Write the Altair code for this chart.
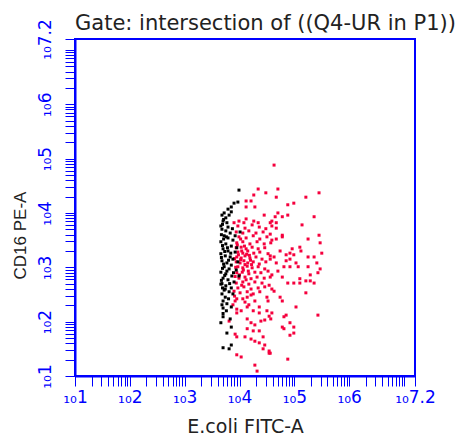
import altair as alt
import pandas as pd

# ---- data (log10 of the fluorescence values) ----
red_x = [4.63, 4.70, 4.67, 5.45, 5.21, 4.99, 4.88, 4.70, 4.88, 5.36, 4.78, 4.65, 4.59, 5.14, 4.67,
         4.67, 5.45, 4.78, 4.78, 5.25, 4.59, 4.67, 5.47, 4.74, 5.10, 5.12, 4.96, 4.92, 4.85, 4.99,
         5.50, 5.36, 5.25, 4.63, 4.56, 4.85, 4.92, 5.03, 5.41, 4.67, 4.81, 4.92, 5.07, 5.25, 5.47,
         4.70, 5.43, 4.59, 4.56, 4.78, 5.29, 5.10, 5.21, 5.29, 4.88, 4.99, 5.10, 5.36, 4.59, 4.63,
         5.21, 4.74, 4.78, 5.03, 5.43, 4.59, 4.85, 4.81, 4.92, 4.99, 4.78, 4.81, 4.99, 4.92, 4.56,
         4.88,
         4.34, 4.48, 4.26, 4.12, 4.21, 4.12, 4.28, 4.45, 4.56, 3.99, 4.12, 4.08, 4.26, 3.90, 4.34,
         3.95, 3.92, 4.06, 4.14, 4.21, 4.10, 4.28, 4.50, 4.52, 3.88, 3.95, 3.95, 4.03, 4.14, 4.17,
         4.36, 4.25, 4.36, 4.50, 4.54, 4.57, 4.14, 4.21, 4.28, 4.14, 4.39, 4.46, 4.25, 4.36, 4.43,
         3.81, 3.92, 3.95, 4.10, 4.21, 4.28, 4.36, 4.46, 4.43, 4.54, 4.54, 3.95, 4.03, 4.28, 4.32,
         3.97, 4.10, 4.23, 4.36, 4.48, 4.59,
         3.94, 4.06, 4.17, 4.30, 4.43, 4.56,
         3.99, 4.12, 4.25, 4.37, 4.50,
         3.95, 4.06, 4.19, 4.32, 4.45, 4.57,
         3.94, 4.03, 4.12, 4.23, 4.34, 4.46,
         3.97, 4.06, 4.15, 4.26, 4.37, 4.52,
         3.95, 4.03, 4.10, 4.19, 4.30, 4.41, 4.56,
         3.94, 4.01, 4.08, 4.15, 4.25, 4.36, 4.48,
         3.97, 4.06, 4.14, 4.23, 4.34, 4.46,
         3.95, 4.05, 4.17, 4.28, 4.39, 4.52,
         3.99, 4.10, 4.21, 4.32, 4.45,
         3.94, 4.06, 4.17, 4.28, 4.41, 4.54,
         3.97, 4.08, 4.21, 4.34, 4.46,
         4.01, 4.14, 4.25, 4.37, 3.90,
         4.04, 4.13, 4.20, 4.10, 4.02, 4.18, 4.07, 4.16, 3.98, 4.22, 4.00, 4.12, 4.04, 3.96, 4.09,
         4.02, 3.93, 3.91, 3.92, 3.91]
red_y = [4.88, 4.44, 4.29, 4.37, 4.29, 4.18, 4.15, 4.00, 3.96, 3.93, 3.93, 3.93, 3.85, 3.78, 3.82,
         3.72, 3.59, 3.59, 3.56, 3.52, 3.50, 3.52, 3.45, 3.30, 3.37, 3.30, 3.34, 3.26, 3.23, 3.23,
         3.26, 3.19, 3.19, 3.19, 3.15, 3.12, 3.15, 3.08, 3.08, 3.08, 3.01, 3.01, 3.01, 3.01, 2.97,
         2.93, 2.90, 2.86, 2.82, 2.82, 2.86, 2.79, 2.75, 2.75, 2.71, 2.71, 2.71, 2.71, 2.60, 2.56,
         2.53, 2.45, 2.38, 2.27, 2.12, 2.16, 2.12, 2.09, 1.98, 1.90, 1.90, 1.87, 1.79, 1.75, 1.42,
         1.31,
         4.44, 4.37, 4.33, 4.22, 4.22, 4.11, 4.11, 3.96, 3.82, 3.85, 3.89, 3.82, 3.85, 3.82, 3.82,
         2.42, 2.38, 2.42, 2.45, 2.49, 2.36, 2.38, 2.45, 2.38, 2.31, 2.23, 2.16, 2.20, 2.27, 2.31,
         2.27, 2.20, 2.16, 2.20, 2.10, 2.05, 2.05, 1.98, 1.94, 1.87, 2.01, 2.03, 1.83, 1.83, 1.72,
         2.01, 1.77, 1.72, 1.72, 1.68, 1.64, 1.61, 1.57, 1.50, 1.46, 1.42, 1.39, 1.35, 1.20, 1.09,
         3.76, 3.72, 3.78, 3.74, 3.71, 3.76,
         3.65, 3.63, 3.67, 3.63, 3.65, 3.61,
         3.56, 3.54, 3.58, 3.52, 3.56,
         3.45, 3.47, 3.43, 3.47, 3.43, 3.45,
         3.36, 3.37, 3.34, 3.37, 3.34, 3.36,
         3.28, 3.26, 3.30, 3.26, 3.28, 3.25,
         3.19, 3.17, 3.21, 3.17, 3.19, 3.15, 3.21,
         3.10, 3.08, 3.12, 3.08, 3.10, 3.06, 3.10,
         3.01, 2.99, 3.02, 2.99, 3.01, 2.97,
         2.90, 2.91, 2.88, 2.91, 2.90, 2.93,
         2.80, 2.82, 2.79, 2.82, 2.80,
         2.71, 2.73, 2.69, 2.73, 2.71, 2.67,
         2.62, 2.64, 2.60, 2.62, 2.64,
         2.53, 2.55, 2.51, 2.55, 2.56,
         3.30, 3.24, 3.13, 3.05, 3.14, 3.22, 2.95, 2.93, 3.23, 3.05, 2.86, 2.77, 2.67, 3.41, 3.39,
         3.52, 3.00, 3.16, 2.83, 2.47]

black_x = [3.68, 3.75, 3.83, 3.72, 3.79, 3.88, 3.66, 3.75, 3.85, 3.70, 3.79, 3.92, 3.66, 3.74, 3.83,
           3.88, 3.68, 3.77, 3.85, 3.72, 3.81, 3.94, 3.66, 3.75, 3.86, 3.70, 3.79, 3.90, 3.66, 3.75,
           3.85, 3.72, 3.81, 3.68, 3.88, 3.97, 3.95, 3.99, 3.92, 4.01,
           3.68, 3.75, 3.81, 3.85, 3.66,
           3.99, 3.97, 3.90, 3.85, 3.79, 3.72, 3.70, 3.77, 3.79,
           3.74, 3.70, 3.77, 3.70, 3.85, 3.70, 3.85, 3.77, 3.70, 3.85, 3.81,
           3.67, 3.69, 3.67, 3.69, 3.67, 3.69, 3.71, 3.73, 3.71, 3.73, 3.68, 3.76, 3.78, 3.80, 3.77,
           3.82, 3.74, 3.70, 3.68, 3.76, 3.66, 3.71, 3.69, 3.87, 3.84, 3.89, 3.80, 3.83]
black_y = [3.70, 3.67, 3.63, 3.58, 3.54, 3.50, 3.47, 3.43, 3.39, 3.34, 3.30, 3.28, 3.25, 3.21, 3.19,
           3.15, 3.12, 3.08, 3.04, 3.01, 2.97, 2.95, 2.91, 2.88, 2.84, 2.80, 2.77, 2.73, 2.69, 2.66,
           2.62, 2.58, 2.55, 2.51, 2.51, 3.10, 3.36, 2.84, 3.58, 3.65,
           3.96, 3.91, 3.96, 4.02, 3.76,
           4.42, 4.20, 4.18, 4.11, 4.07, 4.00, 3.85, 3.82, 3.74,
           2.45, 2.38, 2.33, 2.25, 2.27, 2.09, 1.90, 1.79, 1.52, 1.57, 1.50,
           3.60, 3.40, 3.18, 2.98, 2.76, 2.62, 3.52, 3.29, 3.06, 2.85, 2.70, 3.56, 3.36, 3.13, 2.93,
           2.70, 2.60, 2.15, 2.31, 2.20, 1.98, 3.88, 3.79, 3.71, 3.26, 2.90, 2.42, 2.05]

axis_exps = [1, 2, 3, 4, 5, 6, 7, 7.2]
labelled_exps = [1, 2, 3, 4, 5, 6, 7.2]
minor_mults = [2, 3, 4, 5, 6, 7, 8, 9]
tick_values = [10 ** e for e in axis_exps] + [m * 10 ** d for d in range(1, 7) for m in minor_mults]

df = pd.DataFrame({
    "fitc": [10 ** v for v in red_x] + [10 ** v for v in black_x],
    "pe": [10 ** v for v in red_y] + [10 ** v for v in black_y],
    "pop": ["Q4-UR"] * len(red_x) + ["other"] * len(black_x),
})

BLUE = "#0000ff"
lbl_list = ",".join(str(e) for e in labelled_exps)
label_expr = ("indexof([" + lbl_list + "], round(log(datum.value)/LN10*10)/10) >= 0 && "
              "abs(log(datum.value)/LN10*10 - round(log(datum.value)/LN10*10)) < 0.01"
              " ? '\u2081\u2080' + format(log(datum.value)/LN10, '.2~f') : ''")

common = dict(
    values=tick_values, labelExpr=label_expr, grid=False,
    domainColor=BLUE, domainWidth=2, tickColor=BLUE, tickWidth=1, tickSize=10,
    labelColor=BLUE, labelFont="DejaVu Sans", labelFontSize=17,
    labelOverlap=False, labelFlush=False,
    titleColor="#222222", titleFontWeight="normal",
)

x_axis = alt.Axis(labelAngle=0, labelAlign="center", labelBaseline="alphabetic", labelPadding=16,
                  titleFont="DejaVu Sans", titleFontSize=19, titleX=170, titleY=56,
                  titleAlign="center", titleBaseline="alphabetic", **common)
y_axis = alt.Axis(labelAngle=270, labelAlign="center", labelBaseline="alphabetic", labelPadding=15,
                  titleFont="Liberation Sans", titleFontSize=17, titleAngle=270, titleX=-50, titleY=196,
                  titleAlign="center", titleBaseline="alphabetic", **common)

scale_x = alt.Scale(type="log", domain=[10, 10 ** 7.2], nice=False)
scale_y = alt.Scale(type="log", domain=[10, 10 ** 7.2], nice=False)

chart = alt.Chart(df).mark_square(size=9, opacity=1).encode(
    x=alt.X("fitc:Q", scale=scale_x, axis=x_axis, title="E.coli FITC-A"),
    y=alt.Y("pe:Q", scale=scale_y, axis=y_axis, title="CD16 PE-A"),
    color=alt.Color("pop:N", scale=alt.Scale(domain=["Q4-UR", "other"], range=["#f5003d", "#000000"]),
                    legend=None),
).properties(
    width=340, height=337,
    background="white",
    autosize=alt.AutoSizeParams(type="none"),
    padding={"left": 75, "top": 39, "right": 55, "bottom": 59},
    title=alt.TitleParams(text="Gate: intersection of ((Q4-UR in P1))", anchor="start", frame="group",
                          font="DejaVu Sans", fontSize=21, fontWeight="normal", color="#222222",
                          offset=10, dy=42, baseline="alphabetic"),
).configure_view(stroke=BLUE, strokeWidth=2)

chart.save("out.html", embed_options={"renderer": "svg", "actions": False})
